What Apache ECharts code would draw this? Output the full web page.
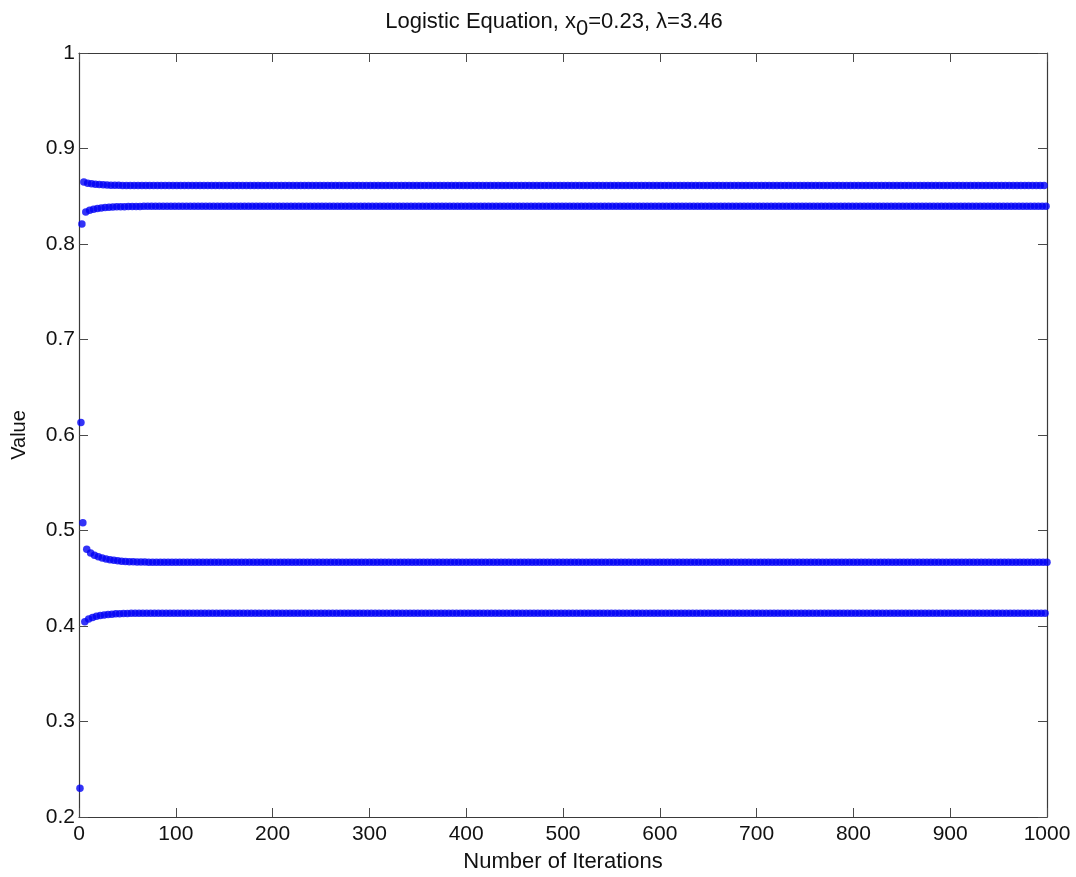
<!DOCTYPE html>
<html>
<head>
<meta charset="utf-8">
<title>Logistic Equation</title>
<script src="https://cdn.jsdelivr.net/npm/echarts@6/dist/echarts.min.js"></script>
<style>
  html, body { margin: 0; padding: 0; background: #ffffff; }
  #chart { width: 1076px; height: 877px; }
</style>
</head>
<body>
<div id="chart"></div>
<script>
// Iterates of the logistic map, x0 = 0.23, lambda = 3.46 (index starts at 1)
const transientValues = [
  0.23, 0.613, 0.821, 0.508,
  0.8648, 0.4045, 0.8334, 0.4804,
  0.8637, 0.4074, 0.8354, 0.4764,
  0.8630, 0.4090, 0.8365, 0.4740,
  0.8625, 0.4101, 0.8373, 0.4724,
  0.8622, 0.4109, 0.8378, 0.4712,
  0.8620, 0.4115, 0.8382, 0.4702,
  0.8618, 0.4120, 0.8385, 0.4694,
  0.8616, 0.4124, 0.8387, 0.4688,
  0.8615, 0.4127, 0.8389, 0.4683,
  0.8614, 0.4129, 0.8390, 0.4679,
  0.8613, 0.4131, 0.8391, 0.4676,
  0.8613, 0.4132, 0.8392, 0.4674,
  0.8612, 0.4133, 0.8393, 0.4672,
  0.8612, 0.4133, 0.8393, 0.4671,
  0.8612, 0.4134, 0.8393, 0.4670,
  0.8612, 0.4134, 0.8394, 0.4669
];
// settled period-4 cycle that repeats for the rest of the run
const cycleValues = [0.8612, 0.4134, 0.8394, 0.4668];
const iterationCount = 1000;

const xTicks = { min: 0, max: 1000, interval: 100 };
const yTicks = { min: 0.2, max: 1, interval: 0.1 };

const titleParts = ['Logistic Equation, x', '0', '=0.23, \u03bb=3.46'];
const xName = 'Number of Iterations';
const yName = 'Value';

// build [iteration, value] pairs
const points = [];
for (let n = 1; n <= iterationCount; n++) {
  const i = n - 1;
  const v = i < transientValues.length
    ? transientValues[i]
    : cycleValues[(i - transientValues.length) % cycleValues.length];
  points.push([n, v]);
}

const FONT = '"Liberation Sans", Arial, Helvetica, sans-serif';
const axisLineStyle = { color: '#3a3a3a', width: 1.2 };
const tickStyle = { color: '#4a4a4a', width: 1 };

function boxAxis(extra) {
  return Object.assign({
    type: 'value',
    axisLine: { show: true, onZero: false, lineStyle: axisLineStyle },
    axisTick: { show: true, inside: true, length: 9, lineStyle: tickStyle },
    splitLine: { show: false },
    axisLabel: { show: false }
  }, extra);
}

const textBase = { fontFamily: FONT, fontWeight: 'normal', color: '#111' };

const chart = echarts.init(document.getElementById('chart'), null, { renderer: 'canvas' });
chart.setOption({
  backgroundColor: '#ffffff',
  animation: false,
  title: {
    text: '{n|' + titleParts[0] + '}{s|' + titleParts[1] + '}{n|' + titleParts[2] + '}',
    left: 549,
    top: 4,
    textAlign: 'center',
    textStyle: {
      fontWeight: 'normal',
      rich: {
        n: Object.assign({ fontSize: 22, verticalAlign: 'top', lineHeight: 25, height: 25 }, textBase),
        s: Object.assign({ fontSize: 22, verticalAlign: 'top', lineHeight: 25, height: 25, padding: [7, 0, 0, 0] }, textBase)
      }
    }
  },
  grid: { left: 79, right: 29, top: 53, bottom: 60, containLabel: false, outerBoundsMode: 'none' },
  xAxis: [
    boxAxis({
      position: 'bottom',
      min: xTicks.min, max: xTicks.max, interval: xTicks.interval,
      name: xName,
      nameLocation: 'middle',
      nameGap: 34,
      nameTextStyle: Object.assign({ fontSize: 22 }, textBase),
      axisLabel: {
        show: true, fontFamily: FONT, fontSize: 21, color: '#111', margin: 7,
        formatter: v => String(v)
      }
    }),
    boxAxis({ position: 'top', min: xTicks.min, max: xTicks.max, interval: xTicks.interval })
  ],
  yAxis: [
    boxAxis({
      position: 'left',
      min: yTicks.min, max: yTicks.max, interval: yTicks.interval,
      name: yName,
      nameLocation: 'middle',
      nameGap: 50,
      nameTextStyle: Object.assign({ fontSize: 20 }, textBase),
      axisLabel: {
        show: true, fontFamily: FONT, fontSize: 21, color: '#111', margin: 4,
        formatter: v => String(Math.round(v * 10) / 10)
      }
    }),
    boxAxis({ position: 'right', min: yTicks.min, max: yTicks.max, interval: yTicks.interval })
  ],
  series: [{
    type: 'scatter',
    xAxisIndex: 0,
    yAxisIndex: 0,
    data: points,
    symbol: 'circle',
    symbolSize: 7.5,
    itemStyle: { color: '#0000f5' },
    silent: true
  }]
});
</script>
</body>
</html>
